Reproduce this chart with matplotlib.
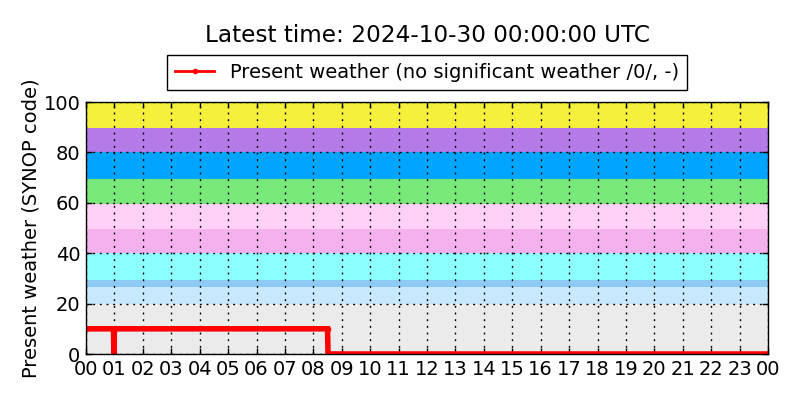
import numpy as np
import matplotlib
matplotlib.use("Agg")
import matplotlib.pyplot as plt
import matplotlib.dates as mdates
from matplotlib.lines import Line2D

# Present weather observations (only the points where the code changes)
obs_times = np.array([
    "2024-10-29T00:00", "2024-10-29T00:58", "2024-10-29T00:59",
    "2024-10-29T01:00", "2024-10-29T08:30", "2024-10-29T08:31",
    "2024-10-30T00:00",
], dtype="datetime64[m]")
obs_codes = [10, 10, 0, 10, 10, 0, 0]

# SYNOP code background bands (lower, upper, colour)
band_edges = [0, 20, 26.5, 29.5, 40, 49.5, 59.5, 69.5, 80, 89.5, 100]
band_colors = [
    "#ebebeb", "#c8e9fd", "#8ccaf3", "#8cffff", "#f5b0ee",
    "#ffd0f8", "#78e878", "#00a5ff", "#b47ae8", "#f5f03c",
]

y_ticks = [0, 20, 40, 60, 80, 100]
latest = "2024-10-30 00:00:00 UTC"
label = "Present weather (no significant weather /0/, -)"

plt.rcParams["font.size"] = 14
plt.rcParams["xtick.direction"] = "in"
plt.rcParams["ytick.direction"] = "in"

fig = plt.figure(figsize=(8, 4), dpi=100)
ax = fig.add_axes([0.1075, 0.115, 0.8525, 0.63])

for lo, hi, col in zip(band_edges[:-1], band_edges[1:], band_colors):
    ax.axhspan(lo, hi, color=col, lw=0, zorder=0)

ax.plot(obs_times, obs_codes, color="red", lw=4, marker=".", ms=6,
        solid_joinstyle="miter", zorder=3)

ax.set_xlim(obs_times[0], obs_times[-1])
ax.set_ylim(0, 100)
ax.set_yticks(y_ticks)
ax.xaxis.set_major_locator(mdates.HourLocator())
ax.xaxis.set_major_formatter(mdates.DateFormatter("%H"))
ax.tick_params(top=True, right=True, length=4, width=1, pad=4)
ax.grid(True, color="black", linestyle=(0, (1.4, 3.4)), lw=1)
for s in ax.spines.values():
    s.set_linewidth(1)
    s.set_zorder(4)

ax.set_ylabel("Present weather (SYNOP code)", fontsize=14, labelpad=2)

handle = Line2D([], [], color="red", lw=2, marker=".", ms=6)
leg = ax.legend([handle], [label], loc="lower center",
                bbox_to_anchor=(0.5, 1.048), borderaxespad=0,
                numpoints=1, fancybox=False, framealpha=1,
                edgecolor="black", fontsize=14, handlelength=2.0)
leg.get_frame().set_linewidth(1)

ax.text(0.5, 1.262, f"Latest time: {latest}", transform=ax.transAxes,
        ha="center", va="center", fontsize=16.7)

fig.savefig("out.png", dpi=100, facecolor="white")
